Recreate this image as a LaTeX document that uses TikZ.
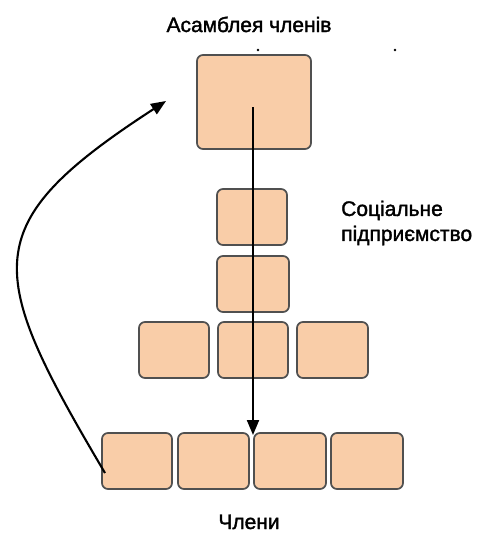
\documentclass[tikz,border=0pt]{standalone}
\usepackage{fontspec}
\setmainfont{Liberation Sans}[FakeBold=1.6]
\usetikzlibrary{arrows.meta}
\definecolor{cellfill}{HTML}{F9CDA8}
\definecolor{cellline}{HTML}{505050}
\tikzset{
  cell/.style={draw=cellline, fill=cellfill, line width=1.7pt, rounded corners=6pt,
    inner sep=0pt, minimum width=70pt, minimum height=56pt},
  flow/.style={line width=2.1pt, -{Triangle[length=15pt,width=12pt]}},
  caption/.style={font=\fontsize{21}{25}\selectfont, inner sep=0pt}
}
\begin{document}
\begin{tikzpicture}[x=1pt,y=-1pt]
\useasboundingbox (0,0) rectangle (482,533);
% assembly
\node[cell, minimum width=114pt, minimum height=94pt] (top) at (254,102) {};
% social enterprise column and row
\node[cell] (s1) at (252,217) {};
\node[cell, minimum width=72pt] (s2) at (253,284) {};
\node[cell] (r1) at (174,350) {};
\node[cell] (r2) at (253,350) {};
\node[cell, minimum width=71pt] (r3) at (332.5,350) {};
% members
\node[cell] (b1) at (137,461) {};
\node[cell, minimum width=71pt] (b2) at (213.5,461) {};
\node[cell, minimum width=72pt] (b3) at (290,461) {};
\node[cell, minimum width=72pt] (b4) at (367,461) {};
% labels
\node[caption, anchor=base] (lt) at (249,32) {Асамблея членів};
\node[caption, align=left, anchor=west] (ls) at (341,223) {Соціальне\\підприємство};
\node[caption, anchor=base] (lb) at (249,529) {Члени};
% small marks above the assembly
\fill (258,50) circle (1.3pt);
\fill (395,50) circle (1.3pt);
% connectors
\coordinate (down0) at (253,107);
\coordinate (down1) at (253,435);
\draw[flow] (down0) -- (down1);
\coordinate (up0) at (105,473);
\coordinate (up1) at (166,101);
\draw[flow] (up0) .. controls (-15,270) and (-25,225) .. (up1);
\end{tikzpicture}
\end{document}
